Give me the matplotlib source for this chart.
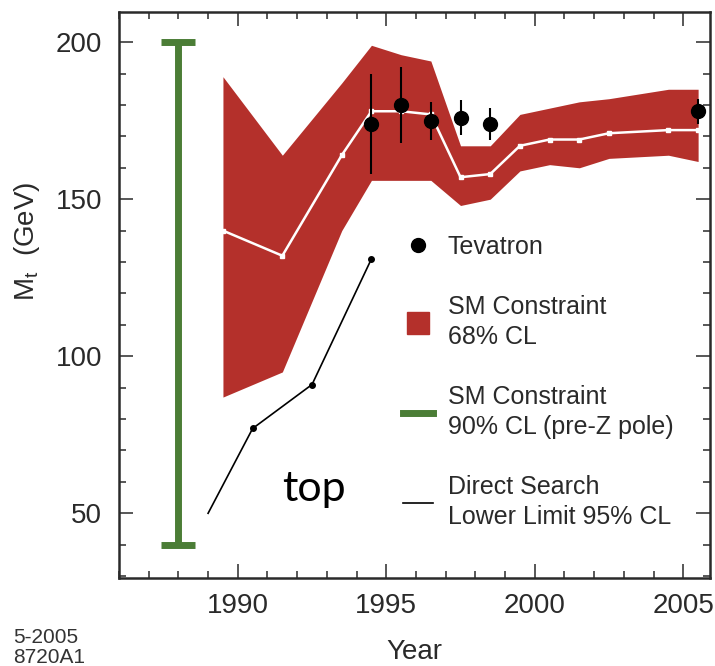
import matplotlib
matplotlib.use("Agg")
import matplotlib.pyplot as plt
from matplotlib.lines import Line2D
from matplotlib.ticker import MultipleLocator

# SM fit of the top mass vs. year (68% CL band and central value)
fit_year = [1989.5, 1991.5, 1993.5, 1994.5, 1995.5, 1996.5, 1997.5,
            1998.5, 1999.5, 2000.5, 2001.5, 2002.5, 2004.5, 2005.5]
fit_center = [140, 132, 164, 178, 178, 177, 157, 158, 167, 169, 169, 171, 172, 172]
fit_upper = [189, 164, 187, 199, 196, 194, 167, 167, 177, 179, 181, 182, 185, 185]
fit_lower = [87, 95, 140, 156, 156, 156, 148, 150, 159, 161, 160, 163, 164, 162]

# Tevatron measurements
tev_year = [1994.5, 1995.5, 1996.5, 1997.5, 1998.5, 2005.5]
tev_mass = [174, 180, 175, 176, 174, 178]
tev_err = [16, 12, 6, 5.5, 5, 4]

# direct search lower limits
ds_year = [1989, 1990.5, 1992.5, 1994.5]
ds_mass = [50, 77, 91, 131]

# pre-Z pole SM constraint (90% CL)
prez_year = [1988]
prez_low = [40]
prez_high = [200]

red = "#b4302b"
green = "#4b7d36"
ink = "#2a2a2a"

plt.rcParams['font.family'] = ['Liberation Sans', 'DejaVu Sans']
plt.rcParams['mathtext.fontset'] = 'custom'
plt.rcParams['mathtext.rm'] = 'Liberation Sans'

fig = plt.figure(figsize=(7.15, 6.66), dpi=100)
ax = fig.add_axes([119 / 715, 1 - 578 / 666, 591 / 715, 566 / 666])

# 68% CL band and central line
ax.fill_between(fit_year, fit_lower, fit_upper, color=red, lw=0, zorder=1)
ax.plot(fit_year, fit_center, color="white", lw=1.8, marker="s", ms=3,
        zorder=2)

# pre-Z pole constraint
mid = [(lo + hi) / 2 for lo, hi in zip(prez_low, prez_high)]
half = [(hi - lo) / 2 for lo, hi in zip(prez_low, prez_high)]
ax.errorbar(prez_year, mid, yerr=half, fmt="none", ecolor=green,
            elinewidth=5, capsize=12, capthick=5, zorder=2)

# direct search limits
ax.plot(ds_year, ds_mass, color="black", lw=1.2, marker="o", ms=4,
        markevery=[1, 2, 3], zorder=3)

# Tevatron points
ax.errorbar(tev_year, tev_mass, yerr=tev_err, fmt="o", color="black",
            ms=10, elinewidth=1.5, capsize=0, zorder=4)

ax.set_xlim(1986.0, 2005.9)
ax.set_ylim(29.4, 209.6)
ax.xaxis.set_major_locator(MultipleLocator(5))
ax.xaxis.set_minor_locator(MultipleLocator(1))
ax.yaxis.set_major_locator(MultipleLocator(50))
ax.yaxis.set_minor_locator(MultipleLocator(10))
ax.tick_params(which="both", direction="in", top=True, right=True,
               colors=ink, width=1.1, labelsize=20, labelcolor=ink)
ax.tick_params(which="major", length=10)
ax.tick_params(which="minor", length=5)
ax.tick_params(axis="x", pad=11)
ax.tick_params(axis="y", pad=12)
for s in ax.spines.values():
    s.set_linewidth(1.8)
    s.set_color(ink)

ax.set_xlabel("Year", fontsize=20, color=ink, labelpad=14)
ax.set_ylabel(r"M$_\mathregular{t}$  (GeV)", fontsize=20, color=ink)
ax.yaxis.set_label_coords(-0.13, 0.595)

handles = [
    Line2D([], [], ls="none", marker="o", ms=10, color="black"),
    Line2D([], [], ls="none", marker="s", ms=16, color=red),
    Line2D([], [], color=green, lw=5),
    Line2D([], [], color="black", lw=1.2),
]
labels = ["Tevatron", "SM Constraint\n68% CL",
          "SM Constraint\n90% CL (pre-Z pole)",
          "Direct Search\nLower Limit 95% CL"]
leg = ax.legend(handles, labels, loc="upper left",
                bbox_to_anchor=(0.4805, 0.606), frameon=False,
                fontsize=18, handlelength=1.2, handletextpad=0.6,
                labelspacing=1.45, borderpad=0, borderaxespad=0)
for t in leg.get_texts():
    t.set_color(ink)
    t.set_linespacing(1.3)

ax.text(1991.5, 54, "top", fontsize=31, family=["Lato", "DejaVu Sans"],
        color="black", va="baseline", ha="left")

fig.text(13 / 715, 1 - 628 / 666, "5-2005\n8720A1", fontsize=15,
         color="#333333", va="top", ha="left", linespacing=1.05)

fig.savefig("out.png", dpi=100)
